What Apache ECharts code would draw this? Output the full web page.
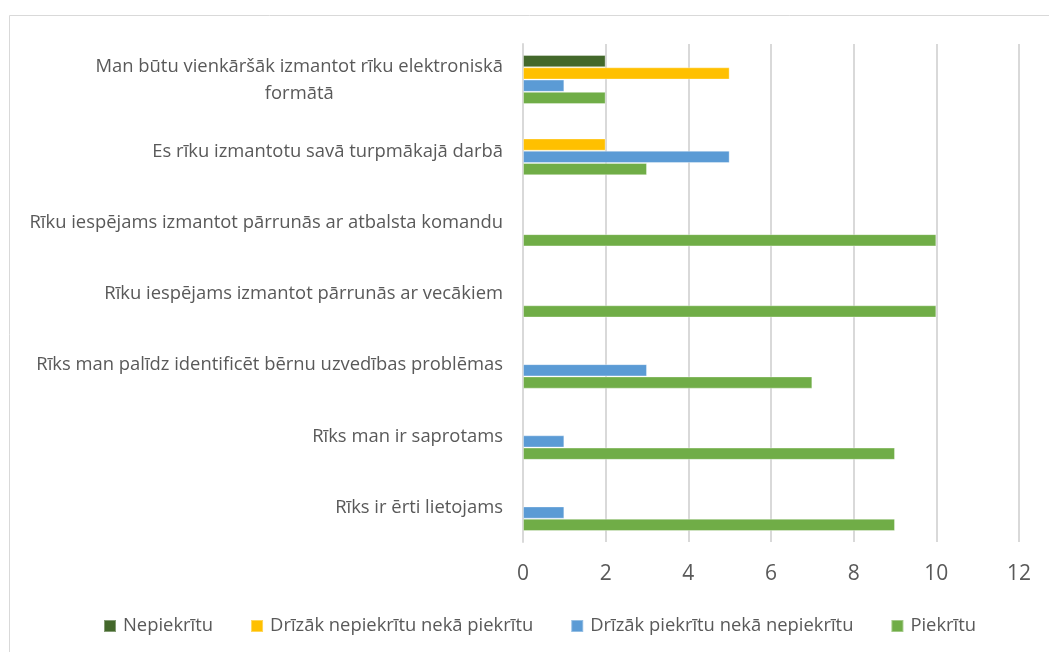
<!DOCTYPE html>
<html>
<head>
<meta charset="utf-8">
<script src="https://cdn.jsdelivr.net/npm/echarts@6/dist/echarts.min.js"></script>
<style>
  html, body { margin: 0; padding: 0; background: #fff; }
  #chart { width: 1049px; height: 652px; }
</style>
</head>
<body>
<div id="chart"></div>
<script>
// categories, top to bottom as in the picture
const categories = [
  'Man būtu vienkāršāk izmantot rīku elektroniskā\nformātā',
  'Es rīku izmantotu savā turpmākajā darbā',
  'Rīku iespējams izmantot pārrunās ar atbalsta komandu',
  'Rīku iespējams izmantot pārrunās ar vecākiem',
  'Rīks man palīdz identificēt bērnu uzvedības problēmas',
  'Rīks man ir saprotams',
  'Rīks ir ērti lietojams'
]
const seriesNames = [
  'Nepiekrītu',
  'Drīzāk nepiekrītu nekā piekrītu',
  'Drīzāk piekrītu nekā nepiekrītu',
  'Piekrītu'
]
const nepiekritu = [2, null, null, null, null, null, null]
const drizakNepiekritu = [5, 2, null, null, null, null, null]
const drizakPiekritu = [1, 5, null, null, 3, 1, 1]
const piekritu = [2, 3, 10, 10, 7, 9, 9]
const colors = ['#43682b', '#ffc000', '#5b9bd5', '#70ad47']

const textColor = '#595959'
const fontFamily = '"Open Sans", sans-serif'

const chart = echarts.init(document.getElementById('chart'))

const values = [nepiekritu, drizakNepiekritu, drizakPiekritu, piekritu]

chart.setOption({
  animation: false,
  color: colors,
  textStyle: { fontFamily: fontFamily },
  graphic: [{
    type: 'rect',
    shape: { x: 9.5, y: 15.5, width: 1100, height: 700 },
    style: { fill: 'none', stroke: '#d9d9d9', lineWidth: 1 },
    silent: true
  }],
  grid: {
    left: 523,
    right: 30,
    top: 44,
    bottom: 110
  },
  legend: {
    data: seriesNames,
    left: 103,
    top: 617,
    padding: 0,
    itemWidth: 12,
    itemHeight: 12,
    itemGap: 37,
    icon: 'rect',
    textStyle: { color: textColor, fontSize: 18.4, fontFamily: fontFamily, padding: [0, 0, 0, 2] }
  },
  xAxis: {
    type: 'value',
    min: 0,
    max: 12,
    interval: 2,
    axisLine: { show: false },
    axisTick: { show: false },
    splitLine: { lineStyle: { color: '#d9d9d9', width: 2 } },
    axisLabel: { color: textColor, fontSize: 21, margin: 22 }
  },
  yAxis: {
    type: 'category',
    inverse: true,
    data: categories,
    axisLine: { lineStyle: { color: '#d9d9d9', width: 2 } },
    axisTick: { show: false },
    axisLabel: {
      color: textColor,
      margin: 20,
      formatter: (value) => value.split('\n').map(s => '{c|' + s + '}').join('\n'),
      rich: {
        c: { align: 'center', fontSize: 18.4, lineHeight: 27, padding: [2, 0, 0, 0], color: textColor, fontFamily: fontFamily }
      }
    }
  },
  series: seriesNames.map((name, i) => ({
    name: name,
    type: 'bar',
    data: values[i],
    barGap: 0,
    barCategoryGap: '31%',
    itemStyle: { color: colors[i], borderColor: 'rgba(255,255,255,0.35)', borderWidth: 1 }
  }))
})
</script>
</body>
</html>
